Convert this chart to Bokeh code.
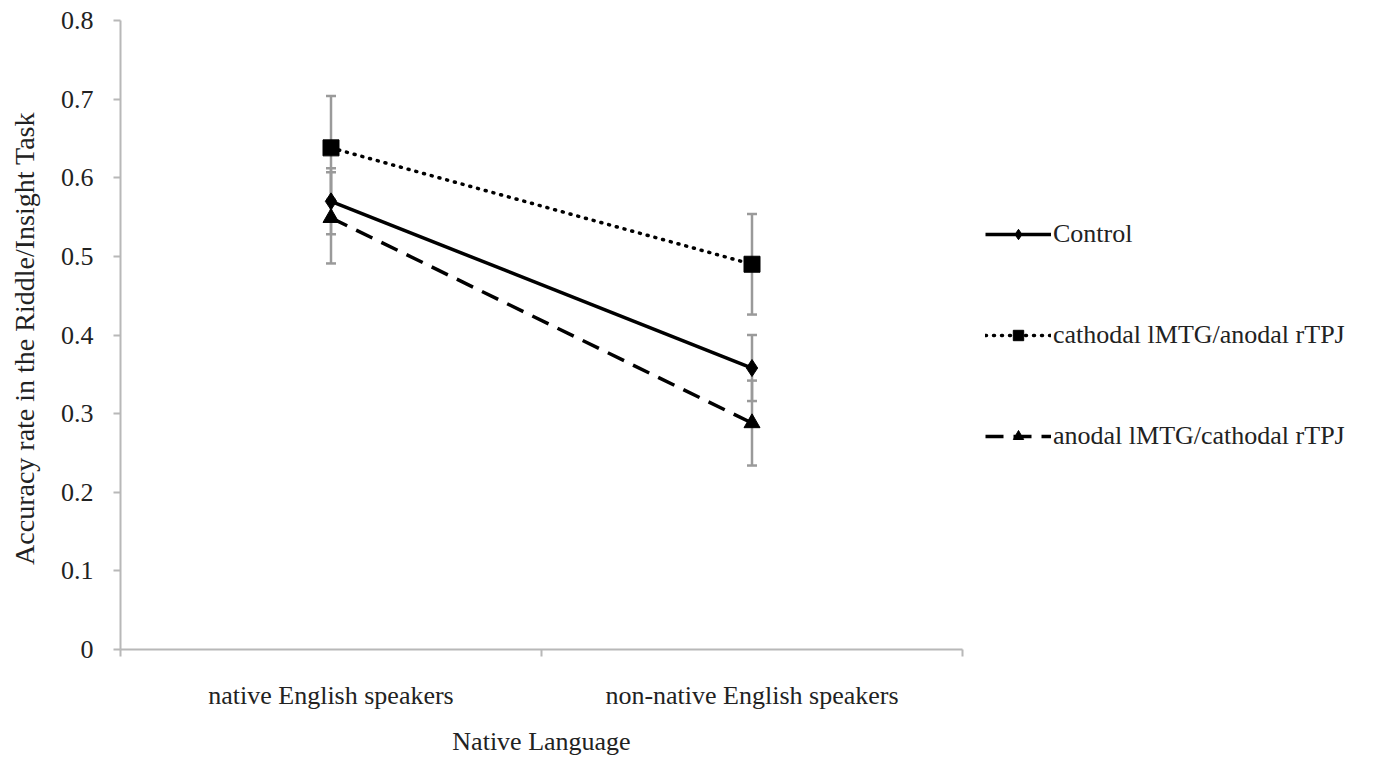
from bokeh.plotting import figure
from bokeh.models import (ColumnDataSource, Whisker, TeeHead, FixedTicker, Legend, LegendItem, Range1d)
from bokeh.embed import file_html
from bokeh.resources import INLINE

categories = ["native English speakers", "non-native English speakers"]
series_names = ["Control", "cathodal lMTG/anodal rTPJ", "anodal lMTG/cathodal rTPJ"]
control = [0.570, 0.358]
control_err = [0.042, 0.042]
cathodal = [0.638, 0.490]
cathodal_err = [0.066, 0.064]
anodal = [0.549, 0.288]
anodal_err = [0.058, 0.054]
y_ticks = [0, 0.1, 0.2, 0.3, 0.4, 0.5, 0.6, 0.7, 0.8]
y_tick_labels = ["0", "0.1", "0.2", "0.3", "0.4", "0.5", "0.6", "0.7", "0.8"]

FONT = "Liberation Serif"
TXT = "#222222"
xpos = [i + 0.5 for i in range(len(categories))]

p = figure(frame_width=842, frame_height=629, output_backend="svg", toolbar_location=None,
           x_range=Range1d(0, len(categories)), y_range=Range1d(0, 0.8),
           min_border_left=120, min_border_top=20, min_border_bottom=0,
           min_border_right=0)
p.outline_line_color = None
p.grid.visible = False
p.background_fill_color = "white"

axis_color = "#b8b8b8"
# x axis
xa = p.xaxis[0]
xa.ticker = FixedTicker(ticks=xpos, minor_ticks=[0, 1, 2])
xa.major_label_overrides = {x: c for x, c in zip(xpos, categories)}
xa.major_tick_line_color = None
xa.major_tick_out = 0
xa.major_tick_in = 0
xa.minor_tick_in = 0
xa.minor_tick_out = 7
xa.minor_tick_line_color = axis_color
xa.minor_tick_line_width = 2
xa.axis_line_color = axis_color
xa.axis_line_width = 2
xa.major_label_standoff = 24
xa.major_label_text_font = FONT
xa.major_label_text_font_size = "26px"
xa.major_label_text_color = TXT
xa.axis_label = "Native Language"
xa.axis_label_text_font = FONT
xa.axis_label_text_font_size = "26px"
xa.axis_label_text_font_style = "normal"
xa.axis_label_text_color = TXT
xa.axis_label_standoff = 14

ya = p.yaxis[0]
ya.ticker = FixedTicker(ticks=y_ticks, minor_ticks=[])
ya.major_label_overrides = {t: l for t, l in zip(y_ticks, y_tick_labels)}
ya.major_tick_in = 0
ya.major_tick_out = 7
ya.major_tick_line_color = axis_color
ya.major_tick_line_width = 2
ya.axis_line_color = axis_color
ya.axis_line_width = 2
ya.major_label_standoff = 20
ya.major_label_text_font = FONT
ya.major_label_text_font_size = "26px"
ya.major_label_text_color = TXT
ya.axis_label = "Accuracy rate in the Riddle/Insight  Task"
ya.axis_label_text_font = FONT
ya.axis_label_text_font_size = "28px"
ya.axis_label_text_font_style = "normal"
ya.axis_label_text_color = TXT
ya.axis_label_standoff = 18

vals = [control, cathodal, anodal]
errs = [control_err, cathodal_err, anodal_err]
dashes = ["solid", "1 7", "18 10"]
markers = ["diamond", "square", "triangle"]
sizes = [17, 16, 16]

sources = []
for v, e in zip(vals, errs):
    src = ColumnDataSource(dict(x=xpos, y=v,
                                upper=[a + b for a, b in zip(v, e)],
                                lower=[a - b for a, b in zip(v, e)]))
    sources.append(src)
    w = Whisker(base="x", upper="upper", lower="lower", source=src,
                line_color="#9a9a9a", line_width=2.5,
                upper_head=TeeHead(size=10, line_color="#9a9a9a", line_width=2.5),
                lower_head=TeeHead(size=10, line_color="#9a9a9a", line_width=2.5))
    p.add_layout(w)

items = []
for src, name, d in zip(sources, series_names, dashes):
    lr = p.line("x", "y", source=src, line_color="black", line_width=3.5,
                line_dash=d, line_cap="round" if d == "1 7" else "butt")
    items.append((name, lr))
mrs = []
for src, m, s in zip(sources, markers, sizes):
    mr = p.scatter("x", "y", source=src, marker=m, size=s, fill_color="black", line_color="black")
    mrs.append(mr)

legend = Legend(items=[LegendItem(label=n, renderers=[lr, mr]) for (n, lr), mr in zip(items, mrs)],
                location="center_left", orientation="vertical")
legend.label_text_font = FONT
legend.label_text_font_size = "26px"
legend.label_text_color = TXT
legend.glyph_width = 66
legend.glyph_height = 26
legend.label_height = 26
legend.label_standoff = 2
legend.spacing = 71
legend.border_line_color = None
legend.background_fill_alpha = 0
legend.padding = 0
legend.margin = 23
p.add_layout(legend, "right")

open("out.html", "w").write(file_html(p, INLINE))
